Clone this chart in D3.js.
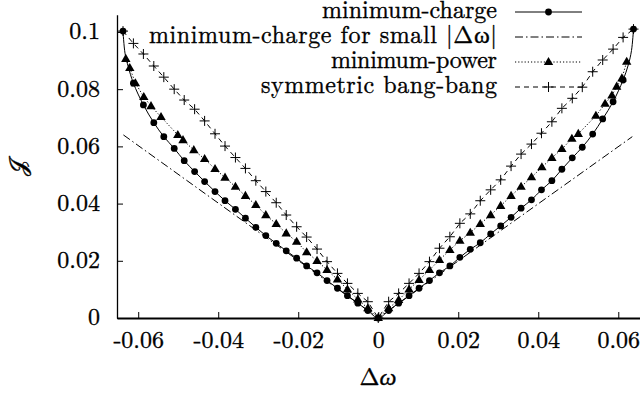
<!DOCTYPE html>
<html>
<head>
<meta charset="utf-8">
<script src="https://cdn.jsdelivr.net/npm/d3@7"></script>
<style>
  body { margin: 0; background: #fff; }
</style>
</head>
<body>
<div id="chart"></div>
<script>
// Marker grid for minimum-charge and bang-bang
const dw = [
  -0.0638, -0.0612, -0.0587, -0.0561, -0.0536, -0.0510, -0.0485, -0.0459, -0.0434, -0.0408,
  -0.0383, -0.0357, -0.0332, -0.0306, -0.0281, -0.0255, -0.0230, -0.0204, -0.0179, -0.0153,
  -0.0128, -0.0102, -0.0077, -0.0051, -0.0026, 0,
  0.0026, 0.0051, 0.0077, 0.0102, 0.0128, 0.0153, 0.0179, 0.0204, 0.0230, 0.0255,
  0.0281, 0.0306, 0.0332, 0.0357, 0.0383, 0.0408, 0.0434, 0.0459, 0.0485, 0.0510,
  0.0536, 0.0561, 0.0587, 0.0612, 0.0638
];
const jCharge = [
  0.1003, 0.0821, 0.0745, 0.0683, 0.0634, 0.0593, 0.0550, 0.0512, 0.0477, 0.0442,
  0.0410, 0.0380, 0.0349, 0.0317, 0.0288, 0.0261, 0.0235, 0.0209, 0.0182, 0.0158,
  0.0131, 0.0104, 0.0078, 0.0052, 0.0026, 0,
  0.0026, 0.0052, 0.0078, 0.0104, 0.0131, 0.0158, 0.0182, 0.0212, 0.0240, 0.0263,
  0.0294, 0.0322, 0.0352, 0.0384, 0.0413, 0.0448, 0.0480, 0.0520, 0.0560, 0.0597,
  0.0643, 0.0696, 0.0756, 0.0832, 0.1010
];
const jBangBang = [
  0.1003, 0.0960, 0.0923, 0.0881, 0.0842, 0.0800, 0.0762, 0.0730, 0.0689, 0.0644,
  0.0601, 0.0561, 0.0523, 0.0480, 0.0442, 0.0403, 0.0360, 0.0319, 0.0283, 0.0241,
  0.0197, 0.0156, 0.0121, 0.0086, 0.0057, 0,
  0.0057, 0.0086, 0.0121, 0.0156, 0.0197, 0.0244, 0.0284, 0.0331, 0.0364, 0.0410,
  0.0448, 0.0483, 0.0531, 0.0573, 0.0608, 0.0646, 0.0686, 0.0733, 0.0768, 0.0807,
  0.0861, 0.0902, 0.0940, 0.0981, 0.1010
];
// unmarked points of the minimum-charge curve near the ends
const dwChargeEnds = [-0.0633, -0.0625, 0.0625, 0.0633];
const jChargeEnds = [0.0926, 0.0879, 0.0885, 0.0935];

// minimum-power
const dwPower = [
  -0.0631, -0.0621, -0.0607, -0.0586, -0.0568, -0.0543, -0.0501, -0.0488, -0.0461, -0.0434,
  -0.0408, -0.0383, -0.0357, -0.0332, -0.0306, -0.0281, -0.0255, -0.0230, -0.0204, -0.0179,
  -0.0153, -0.0128, -0.0102, -0.0077, -0.0051, -0.0026, 0,
  0.0026, 0.0051, 0.0077, 0.0102, 0.0128, 0.0153, 0.0179, 0.0204, 0.0230, 0.0255,
  0.0281, 0.0306, 0.0332, 0.0357, 0.0383, 0.0409, 0.0434, 0.0459, 0.0484, 0.0500,
  0.0544, 0.0567, 0.0584, 0.0596, 0.0609, 0.0621
];
const jPower = [
  0.0906, 0.0874, 0.0821, 0.0773, 0.0741, 0.0703, 0.0640, 0.0622, 0.0587, 0.0556,
  0.0521, 0.0491, 0.0459, 0.0427, 0.0395, 0.0360, 0.0329, 0.0296, 0.0267, 0.0230,
  0.0200, 0.0168, 0.0135, 0.0100, 0.0065, 0.0034, 0,
  0.0034, 0.0063, 0.0100, 0.0133, 0.0168, 0.0203, 0.0238, 0.0270, 0.0298, 0.0329,
  0.0360, 0.0392, 0.0427, 0.0459, 0.0492, 0.0527, 0.0560, 0.0591, 0.0627, 0.0644,
  0.0707, 0.0749, 0.0778, 0.0809, 0.0838, 0.0896
];

// minimum-charge for small |dw|
const dwSmall = [-0.0637, 0, 0.0635];
const jSmall = [0.0640, 0, 0.0634];

const xTicks = [-0.06, -0.04, -0.02, 0, 0.02, 0.04, 0.06];
const yTicks = [0, 0.02, 0.04, 0.06, 0.08, 0.1];
const legendLabels = ["minimum-charge", "minimum-charge for small |\u0394\u03c9|", "minimum-power", "symmetric bang-bang"];

const width = 641, height = 395;
const FONT = "'Latin Modern Roman', 'CMU Serif', 'Liberation Serif', serif";
const FS = 24;

let svg = d3.select("#chart").append("svg")
  .attr("width", width)
  .attr("height", height);

// Scales
let x = d3.scaleLinear().domain([-0.0653, 0.0653]).range([117, 639.5]);
let y = d3.scaleLinear().domain([0, 0.106]).range([318, 14.8]);

let fmt = d => String(+d.toFixed(2));

// Axes, ticks pointing inwards
let xAxis = svg.append("g")
  .attr("transform", "translate(0," + y(0) + ")")
  .call(d3.axisBottom(x).tickValues(xTicks).tickFormat(fmt)
    .tickSizeInner(-6).tickSizeOuter(0).tickPadding(13));
xAxis.select(".domain").attr("stroke-width", 2);

let yAxis = svg.append("g")
  .attr("transform", "translate(" + x.range()[0] + ",0)")
  .call(d3.axisLeft(y).tickValues(yTicks).tickFormat(fmt)
    .tickSizeInner(-6).tickSizeOuter(0).tickPadding(17));
yAxis.select(".domain").attr("stroke-width", 1.3);

svg.selectAll(".tick line").attr("stroke-width", 1);
svg.selectAll("g").attr("font-family", FONT).attr("font-size", FS);
yAxis.selectAll("text").attr("dy", "0.29em");

// Axis titles
svg.append("text")
  .attr("x", 378)
  .attr("y", 385)
  .attr("text-anchor", "middle")
  .attr("font-family", FONT)
  .attr("font-size", FS)
  .html("\u0394<tspan font-style='italic'>\u03c9</tspan>");

svg.append("text")
  .attr("transform", "translate(26,167) rotate(-90)")
  .attr("text-anchor", "middle")
  .attr("font-family", FONT)
  .attr("font-size", FS)
  .text("\ud835\udca5");

// Series
let line = d3.line().x(d => x(d[0])).y(d => y(d[1]));

let chargePts = dw.map((d, i) => [d, jCharge[i]]);
let chargeLine = chargePts.concat(dwChargeEnds.map((d, i) => [d, jChargeEnds[i]]))
  .sort((a, b) => a[0] - b[0]);
let smallPts = dwSmall.map((d, i) => [d, jSmall[i]]);
let powerPts = dwPower.map((d, i) => [d, jPower[i]]);
let bangPts = dw.map((d, i) => [d, jBangBang[i]]);

function addLine(pts, dash, curve) {
  svg.append("path")
    .datum(pts)
    .attr("fill", "none")
    .attr("stroke", "#000")
    .attr("stroke-width", 1)
    .attr("stroke-dasharray", dash)
    .attr("d", line.curve(curve || d3.curveLinear)(pts));
}

const triPath = "M0,-5L4.7,3.1L-4.7,3.1Z";
const crossPath = "M-5,0H5M0,-5V5";

function addMarkers(pts, kind) {
  let g = svg.append("g");
  pts.forEach(p => {
    let tx = x(p[0]), ty = y(p[1]);
    if (kind === "circle") {
      g.append("circle").attr("cx", tx).attr("cy", ty).attr("r", 3.4).attr("fill", "#000");
    } else if (kind === "tri") {
      g.append("path").attr("d", triPath).attr("transform", "translate(" + tx + "," + ty + ")").attr("fill", "#000");
    } else {
      g.append("path").attr("d", crossPath).attr("transform", "translate(" + tx + "," + ty + ")")
        .attr("stroke", "#000").attr("stroke-width", 1).attr("fill", "none");
    }
  });
}

addLine(chargeLine, null, d3.curveCatmullRom.alpha(0.5));
addMarkers(chargePts, "circle");
addLine(smallPts, "8,3,1.5,3", null);
addLine(powerPts, "1.2,2", null);
addMarkers(powerPts, "tri");
addLine(bangPts, "5,4", null);
addMarkers(bangPts, "cross");

// Legend
const legendDash = [null, "8,3,1.5,3", "1.2,2", "5,4"];
const legendMarker = ["circle", null, "tri", "cross"];
const legendWidths = [175, 348, 166, 236];
legendLabels.forEach((lab, i) => {
  let ly = 12 + i * 25;
  svg.append("text")
    .attr("x", 497)
    .attr("y", ly + 6)
    .attr("text-anchor", "end")
    .attr("font-family", FONT)
    .attr("font-size", FS)
    .attr("textLength", legendWidths[i])
    .attr("lengthAdjust", "spacing")
    .text(lab);
  svg.append("line")
    .attr("x1", 515).attr("x2", 582)
    .attr("y1", ly).attr("y2", ly)
    .attr("stroke", "#000").attr("stroke-width", 1)
    .attr("stroke-dasharray", legendDash[i]);
  if (legendMarker[i] === "circle") {
    svg.append("circle").attr("cx", 548.5).attr("cy", ly).attr("r", 3.4).attr("fill", "#000");
  } else if (legendMarker[i] === "tri") {
    svg.append("path").attr("d", triPath).attr("transform", "translate(548.5," + ly + ")").attr("fill", "#000");
  } else if (legendMarker[i] === "cross") {
    svg.append("path").attr("d", crossPath).attr("transform", "translate(548.5," + ly + ")")
      .attr("stroke", "#000").attr("stroke-width", 1);
  }
});

// slightly heavier glyphs, like the rasterised TeX fonts of the original
svg.selectAll("text").attr("stroke", "#000").attr("stroke-width", 0.35);
</script>
</body>
</html>
